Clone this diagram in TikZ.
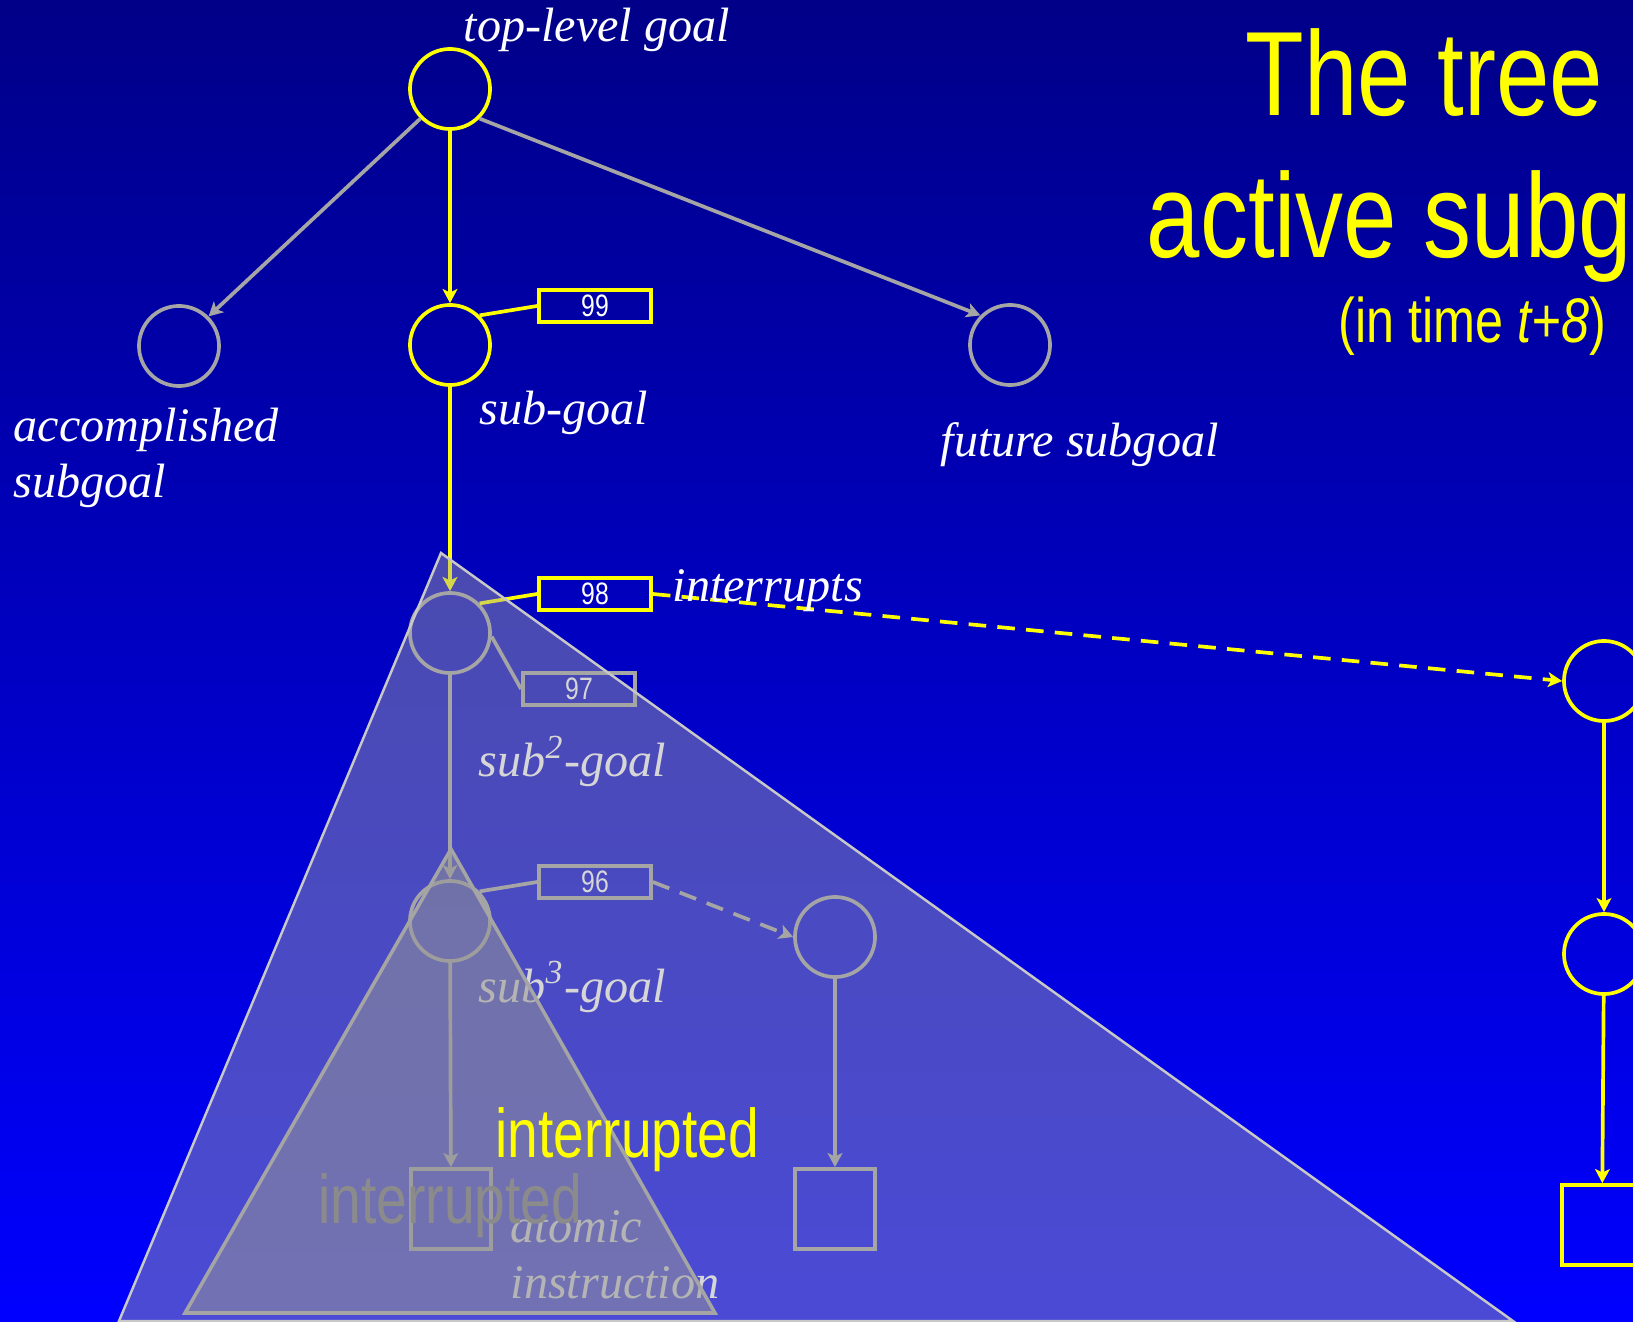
\documentclass[tikz,border=0pt]{standalone}
\usepackage{fontspec}
\usepackage{xcolor}
\usepackage{tikz}
\usetikzlibrary{arrows.meta,positioning}
\newfontfamily\narrowsans[FakeStretch=0.8]{Liberation Sans}
\newfontfamily\timesfont{Liberation Serif}
\definecolor{ylw}{RGB}{255,255,0}
\definecolor{gry}{RGB}{165,165,165}
\definecolor{darkgry}{RGB}{100,100,100}
\definecolor{edgegry}{RGB}{200,200,200}
\definecolor{bgtop}{RGB}{0,0,136}
\definecolor{bgbot}{RGB}{0,0,255}

\begin{document}
\begin{tikzpicture}[x=0.01cm, y=-0.01cm,
    goal/.style={circle, draw=#1, line width=1.05pt, minimum size=0.8cm, inner sep=0pt},
    atom/.style={rectangle, draw=#1, line width=1.05pt, minimum size=0.8cm, inner sep=0pt},
    tag/.style={rectangle, draw=#1, line width=1.05pt, minimum width=1.12cm, minimum height=0.32cm, inner sep=0pt, text=white, font=\narrowsans\fontsize{8.8}{10}\selectfont},
    lbl/.style={anchor=base west, inner sep=0pt, text=white, font=\timesfont\itshape\fontsize{13.7}{16}\selectfont},
    big/.style={anchor=base west, inner sep=0pt, text=#1, font=\narrowsans\fontsize{19.6}{22}\selectfont},
    link/.style={draw=#1, line width=1.05pt},
    arr/.style={link=#1, -{Stealth[length=4pt, width=4.2pt, inset=1pt]}},
    dash5/.style={dash pattern=on 5pt off 3.2pt}
]
\useasboundingbox (0,0) rectangle (1633,1322);
\clip (0,0) rectangle (1633,1322);
\fill[top color=bgtop, bottom color=bgbot] (0,0) rectangle (1633,1322);

% goal tree
\node[goal=ylw] (top) at (450,89) {};
\node[goal=gry] (acc) at (179,346) {};
\node[goal=ylw] (sub) at (450,345) {};
\node[goal=gry] (fut) at (1010,345) {};
\node[tag=ylw] (t99) at (595,306) {99};
\node[goal=gry] (sub2) at (450,633) {};
\node[tag=ylw] (t98) at (595,594) {98};
\node[tag=gry] (t97) at (579,689) {97};
\node[goal=gry] (sub3) at (450,921) {};
\node[tag=gry] (t96) at (595,882) {96};
\node[goal=gry] (alt) at (835,937) {};
\node[atom=gry] (atomA) at (451,1209) {};
\node[atom=gry] (atomB) at (835,1209) {};
\node[goal=ylw] (R1) at (1604,681) {};
\node[goal=ylw] (R2) at (1604,954) {};
\node[atom=ylw] (R3) at (1602,1225) {};

\draw[arr=ylw] (top) -- (sub);
\draw[arr=gry] (top.south west) -- (acc.north east);
\draw[arr=gry] (top.south east) -- (fut.north west);
\draw[link=ylw] (sub.north east) -- (t99.west);
\draw[arr=ylw] (sub) -- (sub2);
\draw[link=ylw] (sub2.north east) -- (t98.west);
\draw[link=gry] (sub2.-5) -- (t97.west);
\draw[arr=gry] (sub2) -- (sub3);
\draw[link=gry] (sub3.north east) -- (t96.west);
\draw[arr=gry, dash5] (t96.east) -- (alt.west);
\draw[arr=gry] (sub3) -- (atomA);
\draw[arr=gry] (alt) -- (atomB);
\draw[arr=ylw, dash5] (t98.east) -- (R1.west);
\draw[arr=ylw] (R1) -- (R2);
\draw[arr=ylw] (R2) -- (R3);

% labels
\node[lbl] (ltop) at (463,42) {top-level goal};
\node[lbl] (lacc) at (13,442) {accomplished};
\node[lbl] (lacc2) at (13,498) {subgoal};
\node[lbl] (lsub) at (479,425) {sub-goal};
\node[lbl] (lfut) at (940,457) {future subgoal};
\node[lbl] (lint) at (672,602) {interrupts};
\node[lbl] (lsub2) at (478,777) {sub\textsuperscript{2}-goal};
\node[lbl] (lsub3) at (478,1002) {sub\textsuperscript{3}-goal};
\node[lbl] (latom) at (510,1242) {atomic};
\node[lbl] (latom2) at (510,1298) {instruction};
\node[big=darkgry] (lintd) at (318,1223) {interrupted};

% interrupted part of the tree
\draw[edgegry, line width=0.7pt, fill={rgb,255:red,165;green,165;blue,165}, fill opacity=0.45]
  (441,553) -- (119,1321) -- (1513,1321) -- cycle;
\draw[gry, line width=1pt, fill={rgb,255:red,150;green,150;blue,150}, fill opacity=0.52]
  (451,849) -- (185,1313) -- (715,1313) -- cycle;

\node[big=ylw] (lintd2) at (495,1157) {interrupted};

% title
\node[anchor=base west, inner sep=0pt, text=ylw, font=\narrowsans\fontsize{34.1}{40}\selectfont] (title1) at (1245,116) {The tree of};
\node[anchor=base west, inner sep=0pt, text=ylw, font=\narrowsans\fontsize{34.1}{40}\selectfont] (title2) at (1146,258) {active subgoals};
\node[anchor=base west, inner sep=0pt, text=ylw, font=\narrowsans\fontsize{17.9}{20}\selectfont] (title3) at (1338,343) {(in time \textit{t+8})};
\end{tikzpicture}
\end{document}
